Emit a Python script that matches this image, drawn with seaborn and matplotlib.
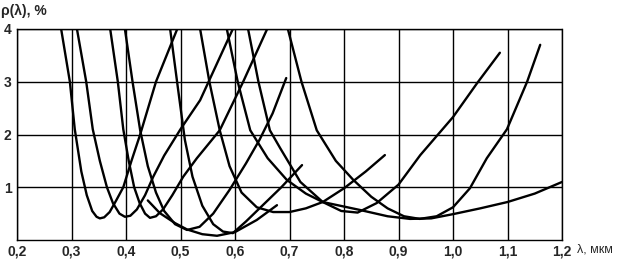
import matplotlib
matplotlib.use("Agg")
import matplotlib.pyplot as plt
import seaborn as sns
import pandas as pd

# wavelength (um) / reflectance (%) points, one list pair per curve
c1_x = [0.281, 0.297, 0.306, 0.318, 0.328, 0.338, 0.346, 0.352, 0.360, 0.370, 0.382, 0.395, 0.410, 0.426, 0.455, 0.494]
c1_y = [4.0, 3.0, 2.1, 1.3, 0.85, 0.55, 0.44, 0.41, 0.43, 0.53, 0.75, 1.0, 1.5, 2.0, 3.0, 4.0]
c2_x = [0.310, 0.327, 0.339, 0.352, 0.365, 0.376, 0.388, 0.398, 0.408, 0.420, 0.435, 0.450, 0.470, 0.500, 0.536, 0.596]
c2_y = [4.0, 3.0, 2.1, 1.5, 1.0, 0.7, 0.5, 0.44, 0.46, 0.58, 0.85, 1.2, 1.6, 2.1, 2.65, 4.0]
c3_x = [0.371, 0.385, 0.395, 0.405, 0.415, 0.425, 0.435, 0.444, 0.455, 0.468, 0.485, 0.505, 0.530, 0.572, 0.615, 0.659]
c3_y = [4.0, 3.0, 2.1, 1.5, 1.0, 0.7, 0.5, 0.42, 0.45, 0.58, 0.85, 1.2, 1.55, 2.08, 3.0, 4.0]
c4_x = [0.398, 0.412, 0.426, 0.440, 0.455, 0.470, 0.490, 0.512, 0.535, 0.560, 0.590, 0.620, 0.645, 0.669, 0.694]
c4_y = [4.0, 3.0, 2.08, 1.4, 0.9, 0.55, 0.3, 0.19, 0.25, 0.5, 0.95, 1.45, 1.9, 2.4, 3.07]
c5_x = [0.440, 0.462, 0.490, 0.512, 0.540, 0.567, 0.600, 0.640, 0.677]
c5_y = [0.75, 0.51, 0.32, 0.20, 0.11, 0.08, 0.15, 0.38, 0.66]
c6_x = [0.481, 0.495, 0.508, 0.522, 0.540, 0.560, 0.578, 0.596, 0.620, 0.650, 0.685, 0.723]
c6_y = [4.0, 2.9, 1.9, 1.2, 0.65, 0.3, 0.16, 0.13, 0.35, 0.65, 1.0, 1.42]
c7_x = [0.536, 0.553, 0.572, 0.590, 0.612, 0.640, 0.670, 0.700, 0.730, 0.761, 0.800, 0.840, 0.875]
c7_y = [4.0, 3.0, 2.08, 1.4, 0.9, 0.62, 0.53, 0.53, 0.6, 0.72, 0.98, 1.3, 1.61]
c8_x = [0.624, 0.643, 0.664, 0.683, 0.720, 0.761, 0.795, 0.825, 0.860, 0.900, 0.940, 1.000, 1.044, 1.086]
c8_y = [4.0, 3.0, 2.08, 1.74, 1.1, 0.72, 0.55, 0.52, 0.7, 1.05, 1.61, 2.33, 2.97, 3.55]
c9_x = [0.697, 0.722, 0.750, 0.785, 0.817, 0.850, 0.880, 0.910, 0.939, 0.970, 1.000, 1.031, 1.062, 1.099, 1.136, 1.160]
c9_y = [4.0, 3.0, 2.08, 1.5, 1.14, 0.82, 0.6, 0.45, 0.40, 0.45, 0.62, 0.98, 1.55, 2.1, 3.0, 3.7]
c10_x = [0.585, 0.605, 0.628, 0.660, 0.695, 0.730, 0.761, 0.829, 0.880, 0.921, 0.960, 1.000, 1.050, 1.100, 1.150, 1.200]
c10_y = [4.0, 3.0, 2.08, 1.55, 1.14, 0.88, 0.72, 0.57, 0.45, 0.40, 0.41, 0.49, 0.6, 0.72, 0.88, 1.1]

curves = [(c1_x, c1_y), (c2_x, c2_y), (c3_x, c3_y), (c4_x, c4_y), (c5_x, c5_y),
          (c6_x, c6_y), (c7_x, c7_y), (c8_x, c8_y), (c9_x, c9_y), (c10_x, c10_y)]

x_ticks = [0.2, 0.3, 0.4, 0.5, 0.6, 0.7, 0.8, 0.9, 1.0, 1.1, 1.2]
x_labels = ["0,2", "0,3", "0,4", "0,5", "0,6", "0,7", "0,8", "0,9", "1,0", "1,1", "1,2"]
y_ticks = [1, 2, 3, 4]
y_labels = ["1", "2", "3", "4"]

frames = []
for i, (xs, ys) in enumerate(curves):
    frames.append(pd.DataFrame({"lam": xs, "rho": ys, "curve": f"c{i+1}"}))
df = pd.concat(frames, ignore_index=True)

sns.set_theme(style="white")
plt.rcParams["font.family"] = ["Liberation Sans", "DejaVu Sans"]

fig = plt.figure(figsize=(6.18, 2.59), dpi=100)
ax = fig.add_axes([17 / 618, 1 - 240 / 259, (562 - 17) / 618, (240 - 29) / 259])

sns.lineplot(data=df, x="lam", y="rho", units="curve", estimator=None, sort=False,
             color="black", linewidth=1.7, ax=ax, legend=False)

ax.set_xlim(0.2, 1.2)
ax.set_ylim(0, 4)
ax.set_xticks(x_ticks)
ax.set_xticklabels(x_labels, fontweight="bold", fontsize=10)
ax.set_yticks(y_ticks)
ax.set_yticklabels(y_labels, fontweight="bold", fontsize=10)
ax.tick_params(axis="x", length=0, pad=3)
ax.tick_params(axis="y", length=0, pad=4)
ax.grid(True, color="black", linewidth=1.0)
ax.set_axisbelow(True)
for s in ax.spines.values():
    s.set_color("black")
    s.set_linewidth(1.0)
ax.spines["top"].set_linestyle((0, (2, 1)))
ax.set_xlabel("")
ax.set_ylabel("")

fig.text(1 / 618, 1 - 11 / 259, "ρ(λ), %", fontsize=10, fontweight="bold", va="center", ha="left")
fig.text(577 / 618, 1 - 250 / 259, "λ, мкм", fontsize=9, va="center", ha="left")

fig.savefig("out.png", dpi=100)
